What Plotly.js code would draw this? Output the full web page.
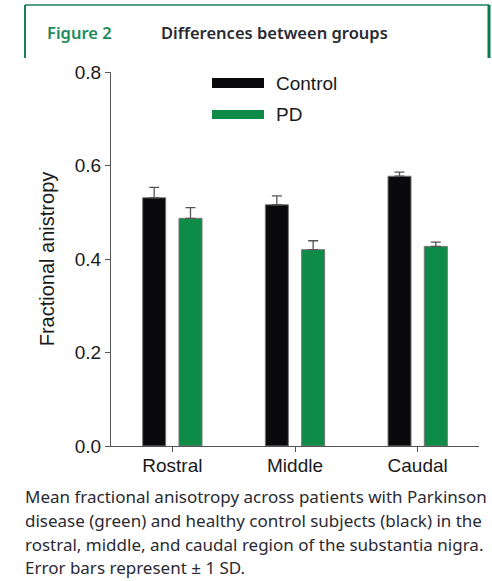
<!DOCTYPE html>
<html>
<head>
<meta charset="utf-8">
<script src="https://cdn.plot.ly/plotly-3.0.1.min.js"></script>
<style>
html,body{margin:0;padding:0;background:#fff;}
#chart{width:492px;height:581px;}
</style>
</head>
<body>
<div id="chart"></div>
<script>
// Data
const categories = ["Rostral", "Middle", "Caudal"];
const seriesNames = ["Control", "PD"];
const controlMean = [0.531, 0.516, 0.577];
const controlSD = [0.022, 0.019, 0.009];
const pdMean = [0.487, 0.420, 0.427];
const pdSD = [0.023, 0.019, 0.009];
const yTicks = [0.0, 0.2, 0.4, 0.6, 0.8];

const colors = {control: "#0a0a0c", pd: "#0e8c47", frame: "#1b8058", axis: "#555555"};
const axisFont = {family: "Liberation Sans, Arial, sans-serif", size: 19, color: "#1a1a1a"};

const traces = [
  {
    type: "bar", name: seriesNames[0], x: categories, y: controlMean,
    marker: {color: colors.control, line: {color: "#777", width: 1}},
    error_y: {type: "data", array: controlSD, arrayminus: controlSD.map(() => 0), symmetric: false,
              color: "#555", thickness: 1.3, width: 5},
    showlegend: false
  },
  {
    type: "bar", name: seriesNames[1], x: categories, y: pdMean,
    marker: {color: colors.pd, line: {color: "#777", width: 1}},
    error_y: {type: "data", array: pdSD, arrayminus: pdSD.map(() => 0), symmetric: false,
              color: "#555", thickness: 1.3, width: 5},
    showlegend: false
  }
];

const captionLines = [
  "Mean fractional anisotropy across patients with Parkinson",
  "disease (green) and healthy control subjects (black) in the",
  "rostral, middle, and caudal region of the substantia nigra.",
  "Error bars represent \u00b1 1 SD."
];

const W = 492, H = 581;
const M = {l: 111, r: 13, t: 72, b: 135};
const PW = W - M.l - M.r, PH = H - M.t - M.b;
const px = (x) => (x - M.l) / PW;
const py = (y) => (H - M.b - y) / PH;

const shapes = [
  // header frame
  {type: "line", xref: "paper", yref: "paper", x0: px(25), x1: px(489), y0: py(5), y1: py(5),
   line: {color: colors.frame, width: 1.6}},
  {type: "line", xref: "paper", yref: "paper", x0: px(25), x1: px(25), y0: py(5), y1: py(58),
   line: {color: colors.frame, width: 2}},
  {type: "line", xref: "paper", yref: "paper", x0: px(489), x1: px(489), y0: py(5), y1: py(58),
   line: {color: "#0b7a4e", width: 3}},
  // legend swatches
  {type: "rect", xref: "paper", yref: "paper", x0: px(212), x1: px(264), y0: py(78), y1: py(88),
   fillcolor: colors.control, line: {width: 0}},
  {type: "rect", xref: "paper", yref: "paper", x0: px(212), x1: px(264), y0: py(110), y1: py(119),
   fillcolor: colors.pd, line: {width: 0}}
];

const headFont = {family: "Noto Sans, sans-serif", size: 16.5, weight: 600};
const annotations = [
  {xref: "paper", yref: "paper", x: px(45), y: py(32), xanchor: "left", yanchor: "middle",
   text: "Figure 2", showarrow: false,
   font: Object.assign({}, headFont, {color: "#1d8a5c"})},
  {xref: "paper", yref: "paper", x: px(159), y: py(32), xanchor: "left", yanchor: "middle",
   text: "Differences between groups", showarrow: false,
   font: Object.assign({}, headFont, {color: "#2a2a33"})},
  {xref: "paper", yref: "paper", x: px(274), y: py(83), xanchor: "left", yanchor: "middle",
   text: seriesNames[0], showarrow: false, font: axisFont},
  {xref: "paper", yref: "paper", x: px(274), y: py(114), xanchor: "left", yanchor: "middle",
   text: seriesNames[1], showarrow: false, font: axisFont}
];
captionLines.forEach((t, i) => {
  annotations.push({xref: "paper", yref: "paper", x: px(23), y: py(497 + i * 23.5),
    xanchor: "left", yanchor: "middle", text: t, showarrow: false,
    font: {family: "Noto Sans, sans-serif", size: 17, color: "#2a2a33"}});
});

const layout = {
  width: W, height: H,
  margin: {l: M.l, r: M.r, t: M.t, b: M.b, pad: 0},
  paper_bgcolor: "#fff", plot_bgcolor: "#fff",
  barmode: "group", bargap: 0.408, bargroupgap: 0.366,
  xaxis: {
    type: "category", range: [-0.5, 2.5],
    showline: true, linecolor: colors.axis, linewidth: 1,
    ticks: "outside", ticklen: 5, tickcolor: colors.axis,
    ticklabelstandoff: -3,
    tickfont: axisFont, showgrid: false, zeroline: false
  },
  yaxis: {
    range: [0, 0.8], tickvals: yTicks, tickformat: ".1f",
    showline: true, linecolor: colors.axis, linewidth: 1,
    ticks: "outside", ticklen: 5, tickcolor: colors.axis,
    tickfont: axisFont, showgrid: false, zeroline: false,
    title: {text: "Fractional anistropy", font: {family: "Liberation Sans, Arial, sans-serif", size: 20, color: "#1a1a1a"}, standoff: 14}
  },
  shapes: shapes,
  annotations: annotations,
  showlegend: false
};

Plotly.newPlot("chart", traces, layout, {displayModeBar: false, staticPlot: true});
</script>
</body>
</html>
